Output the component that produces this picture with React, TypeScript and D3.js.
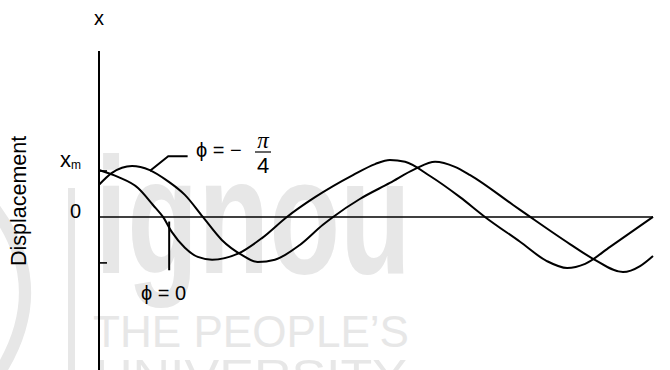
import React from 'react';
import * as d3 from 'd3';

const W = 670;
const H = 370;

// Time in arbitrary units, displacement in units of the amplitude x_m.
const phaseZeroT = [0, 0.41, 0.845, 1.17, 1.386, 1.58, 1.86, 2.14, 2.45, 3.01, 3.53, 4.07, 4.68, 5.50, 5.98, 6.30, 6.63, 7.17, 7.82, 8.36, 9.12, 9.70, 10.14, 10.53, 11.07, 12.0];
const phaseZeroX = [1.02, 0.87, 0.63, 0.26, 0, -0.33, -0.67, -0.87, -0.93, -0.80, -0.46, 0, 0.43, 0.91, 1.15, 1.24, 1.20, 0.89, 0.43, 0, -0.54, -0.96, -1.11, -1.02, -0.65, 0];

const phaseShiftT = [0, 0.28, 0.715, 1.10, 1.49, 1.86, 2.25, 2.66, 3.10, 3.44, 3.81, 4.35, 4.85, 5.07, 5.65, 6.30, 6.84, 7.28, 7.71, 8.04, 8.97, 9.34, 10.20, 10.70, 11.35, 11.72, 12.0];
const phaseShiftX = [0.70, 0.96, 1.11, 1.02, 0.78, 0.48, 0, -0.50, -0.83, -0.98, -0.93, -0.61, -0.17, 0, 0.39, 0.74, 1.04, 1.20, 1.09, 0.91, 0.26, 0, -0.59, -0.91, -1.20, -1.07, -0.85];

const yTickValues = [1, -1];

const xScale = d3.scaleLinear().domain([0, 12]).range([99, 653]);
const yScale = d3.scaleLinear().domain([-3.33, 3.61]).range([370, 51]);

const line = d3
  .line<[number, number]>()
  .x((d) => xScale(d[0]))
  .y((d) => yScale(d[1]))
  .curve(d3.curveMonotoneX);

const zip = (t: number[], v: number[]): [number, number][] => t.map((ti, i) => [ti, v[i]]);

const FONT = '"Liberation Sans", Arial, Helvetica, sans-serif';
const WM = '#e7e7e7';
const PHI = '\u03D5';

export default function App() {
  const x0 = xScale(0);
  const y0 = yScale(0);

  // leader anchors (data units)
  const shiftLeader = [
    [1.10, 1.00],
    [1.50, 1.32],
    [1.92, 1.32],
  ] as [number, number][];
  const zeroLeaderT = 1.52;

  return (
    <svg
      width={W}
      height={H}
      viewBox={`0 0 ${W} ${H}`}
      style={{ position: 'absolute', left: 0, top: 0, background: '#fff' }}
    >
      <rect width={W} height={H} fill="#fff" />

      {/* background emblem */}
      <g fill={WM} stroke="none">
        <path d="M -8 205 Q 56 288 -4 378" fill="none" stroke={WM} strokeWidth={12} />
        <rect x={68} y={188} width={7} height={190} />
        <text
          x={95}
          y={273}
          fontFamily={FONT}
          fontWeight="bold"
          fontSize={166}
          textLength={316}
          lengthAdjust="spacingAndGlyphs"
        >
          ignou
        </text>
        <text
          x={93}
          y={347}
          fontFamily={FONT}
          fontSize={45}
          textLength={316}
          lengthAdjust="spacingAndGlyphs"
        >
          THE PEOPLE’S
        </text>
        <text
          x={95}
          y={391}
          fontFamily={FONT}
          fontSize={45}
          textLength={312}
          lengthAdjust="spacingAndGlyphs"
        >
          UNIVERSITY
        </text>
      </g>

      {/* axes */}
      <line x1={x0} x2={x0} y1={yScale(3.61)} y2={H} stroke="#000" strokeWidth={2} />
      <line x1={x0} x2={xScale(12)} y1={y0} y2={y0} stroke="#000" strokeWidth={1.6} />
      {yTickValues.map((v) => (
        <line key={v} x1={x0} x2={x0 + 8} y1={yScale(v)} y2={yScale(v)} stroke="#000" strokeWidth={1.6} />
      ))}

      {/* displacement curves */}
      <path d={line(zip(phaseZeroT, phaseZeroX)) || ''} fill="none" stroke="#000" strokeWidth={2} />
      <path d={line(zip(phaseShiftT, phaseShiftX)) || ''} fill="none" stroke="#000" strokeWidth={2} />

      {/* axis labels */}
      <g fontFamily={FONT} fill="#000">
        <text x={x0} y={25} fontSize={20} textAnchor="middle">x</text>
        <text
          transform={`translate(26, ${y0 - 16}) rotate(-90)`}
          fontSize={21.5}
          textAnchor="middle"
        >
          Displacement
        </text>
        <text x={60} y={yScale(1) - 4} fontSize={22}>
          x<tspan fontSize={12} dy={2}>m</tspan>
        </text>
        <text x={81} y={y0 + 1} fontSize={20} textAnchor="end">0</text>
      </g>

      {/* phase annotations */}
      <polyline
        points={shiftLeader.map((p) => `${xScale(p[0])},${yScale(p[1])}`).join(' ')}
        fill="none"
        stroke="#000"
        strokeWidth={2}
      />
      <g fontFamily={FONT} fill="#000">
        <text x={196} y={157} fontSize={20}>{PHI} = −</text>
        <text x={263} y={148} fontSize={23} fontFamily='"Liberation Serif", "Times New Roman", serif' fontStyle="italic" textAnchor="middle">π</text>
        <line x1={255} x2={271} y1={152} y2={152} stroke="#000" strokeWidth={1.2} />
        <text x={263} y={173} fontSize={22} textAnchor="middle">4</text>
      </g>

      <line
        x1={xScale(zeroLeaderT)}
        x2={xScale(zeroLeaderT)}
        y1={yScale(-0.1)}
        y2={yScale(-1.16)}
        stroke="#000"
        strokeWidth={2}
      />
      <text x={141} y={300} fontFamily={FONT} fontSize={20} fill="#000">{PHI} = 0</text>
    </svg>
  );
}
